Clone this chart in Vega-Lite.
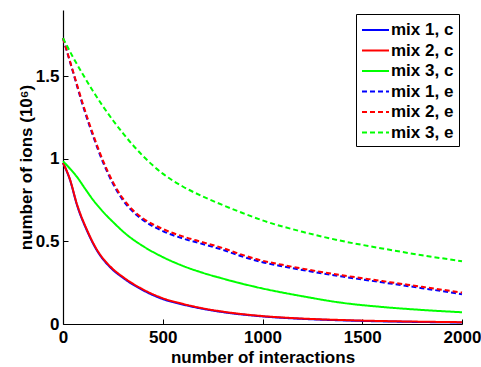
{
  "$schema": "https://vega.github.io/schema/vega-lite/v6.json",
  "width": 399,
  "height": 314,
  "autosize": {"type": "none"},
  "padding": {"left": 63, "top": 10, "right": 19, "bottom": 43},
  "background": "white",
  "config": {
    "view": {"stroke": null},
    "font": "Liberation Sans",
    "axis": {
      "grid": false,
      "domainColor": "black",
      "domainWidth": 1.2,
      "tickColor": "black",
      "tickSize": -5,
      "tickWidth": 1,
      "labelFont": "Liberation Sans",
      "labelFontWeight": "bold",
      "labelFontSize": 17,
      "labelColor": "black",
      "titleFont": "Liberation Sans",
      "titleFontWeight": "bold",
      "titleFontSize": 17,
      "titleColor": "black"
    }
  },
  "data": {
    "values": [
      {"series": "mix 1, c", "n": 0, "v": 0.975},
      {"series": "mix 1, c", "n": 35, "v": 0.872},
      {"series": "mix 1, c", "n": 70, "v": 0.72},
      {"series": "mix 1, c", "n": 120, "v": 0.565},
      {"series": "mix 1, c", "n": 170, "v": 0.445},
      {"series": "mix 1, c", "n": 235, "v": 0.345},
      {"series": "mix 1, c", "n": 300, "v": 0.28},
      {"series": "mix 1, c", "n": 400, "v": 0.205},
      {"series": "mix 1, c", "n": 500, "v": 0.151},
      {"series": "mix 1, c", "n": 600, "v": 0.118},
      {"series": "mix 1, c", "n": 700, "v": 0.092},
      {"series": "mix 1, c", "n": 800, "v": 0.072},
      {"series": "mix 1, c", "n": 1000, "v": 0.046},
      {"series": "mix 1, c", "n": 1200, "v": 0.031},
      {"series": "mix 1, c", "n": 1400, "v": 0.022},
      {"series": "mix 1, c", "n": 1600, "v": 0.016},
      {"series": "mix 1, c", "n": 1800, "v": 0.012},
      {"series": "mix 1, c", "n": 2000, "v": 0.009},

      {"series": "mix 2, c", "n": 0, "v": 0.975},
      {"series": "mix 2, c", "n": 35, "v": 0.875},
      {"series": "mix 2, c", "n": 70, "v": 0.725},
      {"series": "mix 2, c", "n": 120, "v": 0.57},
      {"series": "mix 2, c", "n": 170, "v": 0.45},
      {"series": "mix 2, c", "n": 235, "v": 0.35},
      {"series": "mix 2, c", "n": 300, "v": 0.285},
      {"series": "mix 2, c", "n": 400, "v": 0.21},
      {"series": "mix 2, c", "n": 500, "v": 0.156},
      {"series": "mix 2, c", "n": 600, "v": 0.122},
      {"series": "mix 2, c", "n": 700, "v": 0.095},
      {"series": "mix 2, c", "n": 800, "v": 0.075},
      {"series": "mix 2, c", "n": 1000, "v": 0.048},
      {"series": "mix 2, c", "n": 1200, "v": 0.033},
      {"series": "mix 2, c", "n": 1400, "v": 0.024},
      {"series": "mix 2, c", "n": 1600, "v": 0.018},
      {"series": "mix 2, c", "n": 1800, "v": 0.014},
      {"series": "mix 2, c", "n": 2000, "v": 0.011},

      {"series": "mix 3, c", "n": 0, "v": 0.985},
      {"series": "mix 3, c", "n": 35, "v": 0.94},
      {"series": "mix 3, c", "n": 70, "v": 0.89},
      {"series": "mix 3, c", "n": 110, "v": 0.82},
      {"series": "mix 3, c", "n": 150, "v": 0.752},
      {"series": "mix 3, c", "n": 200, "v": 0.68},
      {"series": "mix 3, c", "n": 250, "v": 0.618},
      {"series": "mix 3, c", "n": 320, "v": 0.54},
      {"series": "mix 3, c", "n": 400, "v": 0.472},
      {"series": "mix 3, c", "n": 500, "v": 0.405},
      {"series": "mix 3, c", "n": 600, "v": 0.352},
      {"series": "mix 3, c", "n": 700, "v": 0.31},
      {"series": "mix 3, c", "n": 800, "v": 0.275},
      {"series": "mix 3, c", "n": 1000, "v": 0.215},
      {"series": "mix 3, c", "n": 1200, "v": 0.168},
      {"series": "mix 3, c", "n": 1400, "v": 0.128},
      {"series": "mix 3, c", "n": 1600, "v": 0.103},
      {"series": "mix 3, c", "n": 1800, "v": 0.085},
      {"series": "mix 3, c", "n": 2000, "v": 0.071},

      {"series": "mix 1, e", "n": 0, "v": 1.73},
      {"series": "mix 1, e", "n": 50, "v": 1.525},
      {"series": "mix 1, e", "n": 100, "v": 1.32},
      {"series": "mix 1, e", "n": 150, "v": 1.14},
      {"series": "mix 1, e", "n": 200, "v": 0.98},
      {"series": "mix 1, e", "n": 250, "v": 0.85},
      {"series": "mix 1, e", "n": 300, "v": 0.75},
      {"series": "mix 1, e", "n": 350, "v": 0.68},
      {"series": "mix 1, e", "n": 400, "v": 0.63},
      {"series": "mix 1, e", "n": 500, "v": 0.562},
      {"series": "mix 1, e", "n": 600, "v": 0.518},
      {"series": "mix 1, e", "n": 700, "v": 0.484},
      {"series": "mix 1, e", "n": 800, "v": 0.449},
      {"series": "mix 1, e", "n": 900, "v": 0.408},
      {"series": "mix 1, e", "n": 1000, "v": 0.374},
      {"series": "mix 1, e", "n": 1100, "v": 0.349},
      {"series": "mix 1, e", "n": 1200, "v": 0.327},
      {"series": "mix 1, e", "n": 1400, "v": 0.287},
      {"series": "mix 1, e", "n": 1600, "v": 0.252},
      {"series": "mix 1, e", "n": 1800, "v": 0.217},
      {"series": "mix 1, e", "n": 2000, "v": 0.18},

      {"series": "mix 2, e", "n": 0, "v": 1.73},
      {"series": "mix 2, e", "n": 50, "v": 1.53},
      {"series": "mix 2, e", "n": 100, "v": 1.33},
      {"series": "mix 2, e", "n": 150, "v": 1.15},
      {"series": "mix 2, e", "n": 200, "v": 0.99},
      {"series": "mix 2, e", "n": 250, "v": 0.86},
      {"series": "mix 2, e", "n": 300, "v": 0.76},
      {"series": "mix 2, e", "n": 350, "v": 0.69},
      {"series": "mix 2, e", "n": 400, "v": 0.64},
      {"series": "mix 2, e", "n": 500, "v": 0.575},
      {"series": "mix 2, e", "n": 600, "v": 0.53},
      {"series": "mix 2, e", "n": 700, "v": 0.495},
      {"series": "mix 2, e", "n": 800, "v": 0.46},
      {"series": "mix 2, e", "n": 900, "v": 0.418},
      {"series": "mix 2, e", "n": 1000, "v": 0.383},
      {"series": "mix 2, e", "n": 1100, "v": 0.358},
      {"series": "mix 2, e", "n": 1200, "v": 0.335},
      {"series": "mix 2, e", "n": 1400, "v": 0.295},
      {"series": "mix 2, e", "n": 1600, "v": 0.26},
      {"series": "mix 2, e", "n": 1800, "v": 0.225},
      {"series": "mix 2, e", "n": 2000, "v": 0.19},

      {"series": "mix 3, e", "n": 0, "v": 1.73},
      {"series": "mix 3, e", "n": 50, "v": 1.615},
      {"series": "mix 3, e", "n": 100, "v": 1.51},
      {"series": "mix 3, e", "n": 150, "v": 1.41},
      {"series": "mix 3, e", "n": 200, "v": 1.318},
      {"series": "mix 3, e", "n": 250, "v": 1.233},
      {"series": "mix 3, e", "n": 300, "v": 1.155},
      {"series": "mix 3, e", "n": 350, "v": 1.083},
      {"series": "mix 3, e", "n": 400, "v": 1.018},
      {"series": "mix 3, e", "n": 450, "v": 0.96},
      {"series": "mix 3, e", "n": 500, "v": 0.91},
      {"series": "mix 3, e", "n": 550, "v": 0.868},
      {"series": "mix 3, e", "n": 600, "v": 0.832},
      {"series": "mix 3, e", "n": 700, "v": 0.772},
      {"series": "mix 3, e", "n": 800, "v": 0.72},
      {"series": "mix 3, e", "n": 900, "v": 0.672},
      {"series": "mix 3, e", "n": 1000, "v": 0.627},
      {"series": "mix 3, e", "n": 1200, "v": 0.558},
      {"series": "mix 3, e", "n": 1400, "v": 0.502},
      {"series": "mix 3, e", "n": 1600, "v": 0.457},
      {"series": "mix 3, e", "n": 1800, "v": 0.416},
      {"series": "mix 3, e", "n": 2000, "v": 0.38}
    ]
  },
  "mark": {"type": "line", "strokeWidth": 2, "interpolate": "monotone"},
  "encoding": {
    "x": {
      "field": "n",
      "type": "quantitative",
      "scale": {"domain": [0, 2000], "nice": false, "zero": false},
      "axis": {
        "title": "number of interactions",
        "values": [0, 500, 1000, 1500, 2000],
        "format": "d",
        "labelPadding": 10,
        "titlePadding": 4,
        "labelFlush": false
      }
    },
    "y": {
      "field": "v",
      "type": "quantitative",
      "scale": {"domain": [0, 1.9], "nice": false},
      "axis": {
        "title": "number of ions (10⁶)",
        "values": [0, 0.5, 1, 1.5],
        "format": "~g",
        "labelPadding": 9,
        "titlePadding": 0,
        "labelFlush": false
      }
    },
    "color": {
      "field": "series",
      "type": "nominal",
      "scale": {
        "domain": ["mix 1, c", "mix 2, c", "mix 3, c", "mix 1, e", "mix 2, e", "mix 3, e"],
        "range": ["#0000ff", "#ff0000", "#00ff00", "#0000ff", "#ff0000", "#00ff00"]
      },
      "legend": {
        "title": null,
        "orient": "none",
        "legendX": 293,
        "legendY": 4,
        "strokeColor": "black",
        "fillColor": "white",
        "padding": 5,
        "symbolType": "M-1.35,0H1.35",
        "symbolSize": 400,
        "symbolStrokeWidth": 2,
        "symbolOffset": 3.5,
        "labelFont": "Liberation Sans",
        "labelFontWeight": "bold",
        "labelFontSize": 17,
        "labelColor": "black",
        "labelOffset": 4.5,
        "rowPadding": 1.5
      }
    },
    "strokeDash": {
      "field": "series",
      "type": "nominal",
      "scale": {
        "domain": ["mix 1, c", "mix 2, c", "mix 3, c", "mix 1, e", "mix 2, e", "mix 3, e"],
        "range": [[1, 0], [1, 0], [1, 0], [5, 3], [5, 3], [5, 3]]
      }
    }
  }
}
